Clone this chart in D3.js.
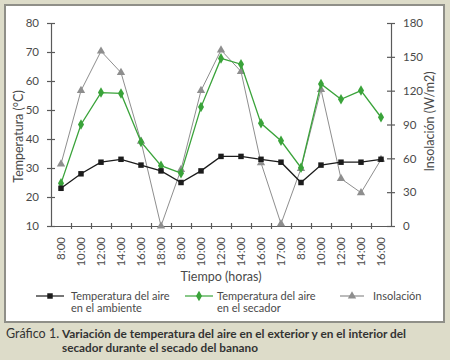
<!DOCTYPE html>
<html>
<head>
<meta charset="utf-8">
<script src="https://cdn.jsdelivr.net/npm/d3@7"></script>
<style>
  html, body { margin: 0; padding: 0; background: #dddcc9; }
  svg { display: block; font-family: Lato, "Open Sans", sans-serif; }
</style>
</head>
<body>
<svg id="chart" width="450" height="360"></svg>
<script>
// hours along the x axis (three days of drying)
const hours = ["8:00", "10:00", "12:00", "14:00", "16:00", "18:00",
               "8:00", "10:00", "12:00", "14:00", "16:00", "17:00",
               "8:00", "10:00", "12:00", "14:00", "16:00"];
// air temperature outside (°C)
const tempAmbiente = [23, 28, 32, 33, 31, 29, 25, 29, 34, 34, 33, 32, 25, 31, 32, 32, 33];
// air temperature inside the dryer (°C)
const tempSecador = [24.7, 45, 56, 55.7, 39, 30.8, 28.2, 51, 67.8, 65.8, 45.4, 39.4, 30.1, 59, 53.7, 56.7, 47.5];
// insolation (W/m2)
const insolacion = [55, 120, 155, 136, 75, 0, 50, 120, 156, 137, 56, 2, 51, 121, 42, 29.5, 59];

const leftTicks = [10, 20, 30, 40, 50, 60, 70, 80];
const rightTicks = [0, 30, 60, 90, 120, 150, 180];

const COLORS = {
    ambiente: "#1c1c1c",
    secador: "#3aa33a",
    insolacion: "#8e8e8e",
    axis: "#5a5a5a",
    text: "#4a4a4a"
};

const svg = d3.select("#chart");
const margin = { left: 51, right: 391, top: 23, bottom: 226 };

// white panel with grey frame
svg.append("rect")
    .attr("x", 5).attr("y", 5)
    .attr("width", 439).attr("height", 317)
    .attr("fill", "#fff")
    .attr("stroke", "#8f8f88")
    .attr("stroke-width", 2);

const x = d3.scaleBand()
    .domain(d3.range(hours.length))
    .range([margin.left, margin.right]);
const cx = i => x(i) + x.bandwidth() / 2;

const yT = d3.scaleLinear().domain([10, 80]).range([margin.bottom, margin.top]);
const yI = d3.scaleLinear().domain([0, 180]).range([margin.bottom, margin.top]);

// Axes
const axisStyle = g => {
    g.select(".domain").attr("stroke", COLORS.axis).attr("stroke-width", 1.2);
    g.selectAll(".tick line").attr("stroke", COLORS.axis).attr("stroke-width", 1.2);
    g.selectAll("text").attr("fill", COLORS.text).attr("font-size", "11.5px").attr("font-family", "Lato, sans-serif");
};

const leftAxis = svg.append("g")
    .attr("transform", `translate(${margin.left},0)`)
    .call(d3.axisLeft(yT).tickValues(leftTicks).tickSize(4).tickSizeOuter(0).tickPadding(8))
    .call(axisStyle);
leftAxis.selectAll(".tick line").attr("x1", 4).attr("x2", -4);

const rightAxis = svg.append("g")
    .attr("transform", `translate(${margin.right},0)`)
    .call(d3.axisRight(yI).tickValues(rightTicks).tickSize(4).tickSizeOuter(0).tickPadding(8))
    .call(axisStyle);
rightAxis.selectAll(".tick line").attr("x1", -4).attr("x2", 4);

// bottom axis: labels at the category centres
const bottomLabels = svg.append("g")
    .attr("transform", `translate(0,${margin.bottom})`)
    .call(d3.axisBottom(x).tickSize(0).tickSizeOuter(0).tickFormat(i => hours[i]))
    .call(axisStyle);
bottomLabels.selectAll(".tick text")
    .attr("transform", "rotate(-90)")
    .attr("text-anchor", "end")
    .attr("x", -11)
    .attr("y", 0)
    .attr("dy", "0.35em");

// bottom tick marks between categories
const boundary = d3.scaleLinear().domain([0, hours.length]).range([margin.left, margin.right]);
const bottomTicks = svg.append("g")
    .attr("transform", `translate(0,${margin.bottom})`)
    .call(d3.axisBottom(boundary).tickValues(d3.range(1, hours.length)).tickSize(3).tickFormat(""))
    .call(axisStyle);
bottomTicks.select(".domain").remove();
bottomTicks.selectAll(".tick line").attr("y1", -3).attr("y2", 3);

// axis titles
svg.append("text")
    .attr("transform", `translate(19,${(margin.top + margin.bottom) / 2 + 12}) rotate(-90)`)
    .attr("text-anchor", "middle")
    .attr("dy", "0.35em")
    .attr("font-size", "12.5px")
    .attr("fill", COLORS.text)
    .text("Temperatura (°C)");

svg.append("text")
    .attr("transform", `translate(430,${(margin.top + margin.bottom) / 2 - 3}) rotate(-90)`)
    .attr("text-anchor", "middle")
    .attr("dy", "0.35em")
    .attr("font-size", "12.5px")
    .attr("fill", COLORS.text)
    .text("Insolación (W/m2)");

svg.append("text")
    .attr("x", 221).attr("y", 281)
    .attr("text-anchor", "middle")
    .attr("font-size", "12.5px")
    .attr("fill", COLORS.text)
    .text("Tiempo (horas)");

// series
const series = [
    { key: "insolacion", values: insolacion, y: yI, color: COLORS.insolacion, symbol: d3.symbolTriangle, size: 30, width: 1 },
    { key: "secador", values: tempSecador, y: yT, color: COLORS.secador, symbol: d3.symbolDiamond, size: 32, width: 1.3 },
    { key: "ambiente", values: tempAmbiente, y: yT, color: COLORS.ambiente, symbol: d3.symbolSquare, size: 30, width: 1.3 }
];

series.forEach(s => {
    const line = d3.line().x((d, i) => cx(i)).y(d => s.y(d));
    const g = svg.append("g");
    g.append("path")
        .datum(s.values)
        .attr("fill", "none")
        .attr("stroke", s.color)
        .attr("stroke-width", s.width)
        .attr("d", line);
    g.selectAll("path.mark")
        .data(s.values)
        .join("path")
        .attr("class", "mark")
        .attr("transform", (d, i) => `translate(${cx(i)},${s.y(d)})`)
        .attr("d", d3.symbol(s.symbol, s.size))
        .attr("fill", s.color);
});

// legend
const legendItems = [
    { lines: ["Temperatura del aire", "en el ambiente"], color: COLORS.ambiente, symbol: d3.symbolSquare, size: 30, x0: 36, x1: 64, tx: 71 },
    { lines: ["Temperatura del aire", "en el secador"], color: COLORS.secador, symbol: d3.symbolDiamond, size: 32, x0: 185, x1: 213, tx: 217 },
    { lines: ["Insolación"], color: COLORS.insolacion, symbol: d3.symbolTriangle, size: 30, x0: 340, x1: 364, tx: 373 }
];
const legend = svg.append("g").attr("transform", "translate(0,296)");
legendItems.forEach(item => {
    legend.append("line")
        .attr("x1", item.x0).attr("x2", item.x1)
        .attr("y1", 0).attr("y2", 0)
        .attr("stroke", item.color).attr("stroke-width", 1.2);
    legend.append("path")
        .attr("transform", `translate(${(item.x0 + item.x1) / 2},0)`)
        .attr("d", d3.symbol(item.symbol, item.size))
        .attr("fill", item.color);
    const t = legend.append("text")
        .attr("x", item.tx).attr("y", 3.5)
        .attr("font-size", "11px")
        .attr("fill", COLORS.text);
    item.lines.forEach((ln, i) => {
        t.append("tspan").attr("x", item.tx).attr("dy", i === 0 ? 0 : 12.5).text(ln);
    });
});

// caption below the panel
svg.append("text")
    .attr("x", 6).attr("y", 338)
    .attr("font-size", "12.5px")
    .attr("fill", "#333")
    .text("Gráfico 1.");
svg.append("text")
    .attr("x", 62).attr("y", 338)
    .attr("font-size", "12px")
    .attr("font-weight", 700)
    .attr("fill", "#333")
    .attr("textLength", 344)
    .attr("lengthAdjust", "spacingAndGlyphs")
    .text("Variación de temperatura del aire en el exterior y en el interior del");
svg.append("text")
    .attr("x", 62).attr("y", 352)
    .attr("font-size", "12px")
    .attr("font-weight", 700)
    .attr("fill", "#333")
    .attr("textLength", 196)
    .attr("lengthAdjust", "spacingAndGlyphs")
    .text("secador durante el secado del banano");
</script>
</body>
</html>
